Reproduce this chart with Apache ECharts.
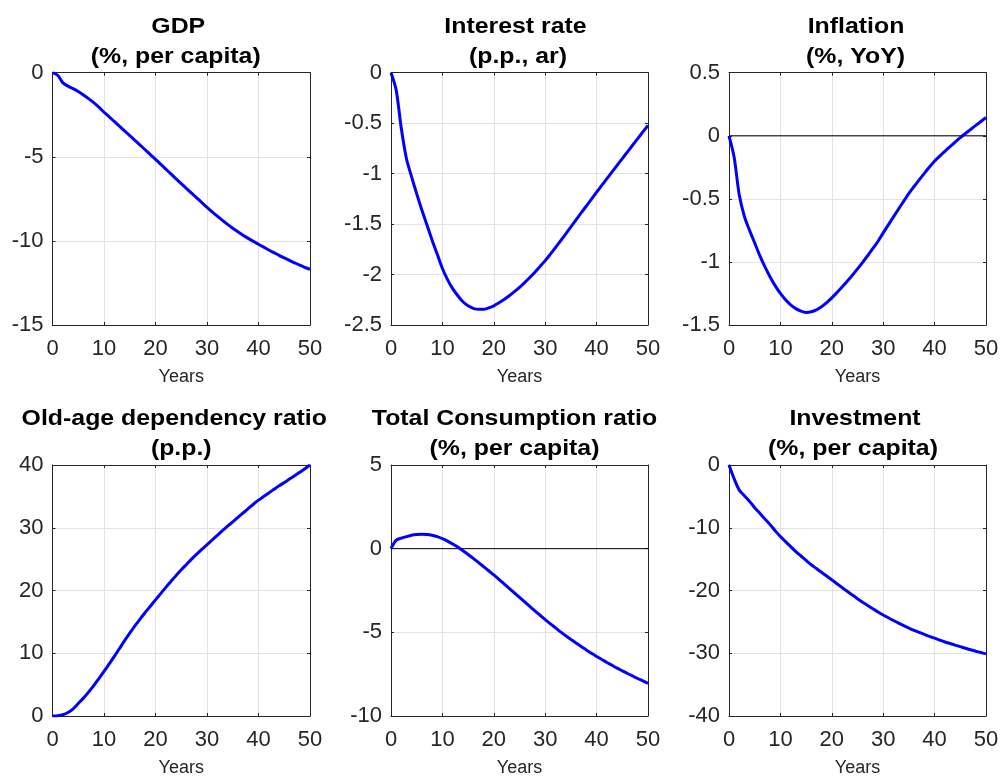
<!DOCTYPE html>
<html>
<head>
<meta charset="utf-8">
<script src="https://cdn.jsdelivr.net/npm/echarts@6/dist/echarts.min.js"></script>
<style>
html,body{margin:0;padding:0;background:#ffffff;}
#chart{width:1000px;height:776px;}
</style>
</head>
<body>
<div id="chart"></div>
<script>
// ---------------- data ----------------
const years = [0,1,2,3,4,5,6,7,8,9,10,11,12,13,14,15,16,17,18,19,20,21,22,23,24,25,26,27,28,29,30,31,32,33,34,35,36,37,38,39,40,41,42,43,44,45,46,47,48,49,50];
const xTicks = [0, 10, 20, 30, 40, 50];

const gdp = [0,-0.15,-0.6,-0.8,-0.95,-1.12,-1.32,-1.54,-1.78,-2.05,-2.35,-2.62,-2.9,-3.18,-3.46,-3.74,-4.02,-4.3,-4.58,-4.87,-5.15,-5.44,-5.73,-6.02,-6.31,-6.6,-6.88,-7.16,-7.44,-7.72,-8.0,-8.27,-8.53,-8.78,-9.02,-9.25,-9.46,-9.66,-9.85,-10.03,-10.2,-10.37,-10.54,-10.7,-10.86,-11.01,-11.16,-11.3,-11.44,-11.57,-11.7];
const interestRate = [0,-0.17,-0.55,-0.85,-1.03,-1.2,-1.36,-1.51,-1.66,-1.8,-1.94,-2.05,-2.14,-2.21,-2.27,-2.31,-2.335,-2.345,-2.345,-2.33,-2.31,-2.28,-2.247,-2.21,-2.17,-2.126,-2.08,-2.03,-1.977,-1.92,-1.862,-1.798,-1.732,-1.665,-1.597,-1.528,-1.459,-1.39,-1.321,-1.252,-1.184,-1.117,-1.05,-0.983,-0.917,-0.851,-0.785,-0.719,-0.653,-0.587,-0.522];
const inflation = [0,-0.17,-0.47,-0.64,-0.75,-0.85,-0.95,-1.04,-1.12,-1.19,-1.25,-1.3,-1.34,-1.37,-1.39,-1.4,-1.395,-1.38,-1.355,-1.322,-1.285,-1.243,-1.199,-1.153,-1.105,-1.055,-1.003,-0.949,-0.893,-0.836,-0.77,-0.706,-0.643,-0.58,-0.518,-0.457,-0.402,-0.349,-0.298,-0.248,-0.2,-0.161,-0.123,-0.086,-0.05,-0.015,0.018,0.05,0.082,0.113,0.145];
const oldAgeRatio = [0,0.05,0.2,0.55,1.15,2.0,2.85,3.8,4.85,5.95,7.1,8.3,9.5,10.75,12.0,13.2,14.35,15.45,16.5,17.5,18.5,19.5,20.5,21.45,22.4,23.3,24.15,25.0,25.8,26.55,27.3,28.05,28.8,29.55,30.25,30.95,31.65,32.35,33.05,33.75,34.4,34.98,35.55,36.12,36.68,37.2,37.75,38.3,38.85,39.4,40.0];
const consumption = [0,0.5,0.63,0.72,0.8,0.84,0.86,0.85,0.8,0.72,0.6,0.45,0.28,0.1,-0.12,-0.35,-0.58,-0.82,-1.07,-1.32,-1.57,-1.83,-2.1,-2.37,-2.64,-2.91,-3.18,-3.45,-3.72,-3.98,-4.24,-4.49,-4.73,-4.97,-5.2,-5.42,-5.64,-5.85,-6.05,-6.25,-6.44,-6.62,-6.8,-6.97,-7.14,-7.3,-7.46,-7.61,-7.76,-7.9,-8.05];
const investment = [0,-2.2,-4.0,-4.9,-5.8,-6.8,-7.7,-8.6,-9.5,-10.5,-11.4,-12.2,-13.0,-13.8,-14.5,-15.2,-15.9,-16.5,-17.1,-17.7,-18.3,-18.92,-19.53,-20.13,-20.72,-21.3,-21.86,-22.4,-22.92,-23.42,-23.9,-24.35,-24.78,-25.2,-25.6,-25.98,-26.34,-26.68,-27.0,-27.31,-27.6,-27.9,-28.2,-28.45,-28.7,-28.95,-29.2,-29.45,-29.67,-29.88,-30.1];

const titles = [
  ['GDP', '(%, per capita)'],
  ['Interest rate', '(p.p., ar)'],
  ['Inflation', '(%, YoY)'],
  ['Old-age dependency ratio', '(p.p.)'],
  ['Total Consumption ratio', '(%, per capita)'],
  ['Investment', '(%, per capita)']
];
const seriesValues = [gdp, interestRate, inflation, oldAgeRatio, consumption, investment];
const yMin = [-15, -2.5, -1.5, 0, -10, -40];
const yMax = [0, 0, 0.5, 40, 5, 0];
const yStep = [5, 0.5, 0.5, 10, 5, 10];
const zeroLine = [false, false, true, false, true, false];
const xLabel = 'Years';

// ---------------- layout / style ----------------
const colLeft = [52.5, 391, 729];
const colWidth = [257.5, 257, 257];
const rowTop = [72.7, 465];
const rowHeight = [252.3, 251];
const titleDx = [[-3, -5.5], [-4, -1.5], [-1.5, -2], [-7, 0], [-5, -5], [-2.5, -4.5]];
const FONT = '"Liberation Sans", Arial, Helvetica, sans-serif';
const AX = '#262626';

const grids = [], xAxes = [], yAxes = [], series = [], graphics = [];
for (let i = 0; i < 6; i++) {
  const r = Math.floor(i / 3), c = i % 3;
  const left = colLeft[c], top = rowTop[r], w = colWidth[c], h = rowHeight[r];
  grids.push({left: left, top: top, width: w, height: h, containLabel: false, outerBoundsMode: 'none', show: false});

  const baseX = {
    type: 'value', gridIndex: i, min: xTicks[0], max: xTicks[xTicks.length - 1], interval: xTicks[1] - xTicks[0],
    axisLine: {show: true, onZero: false, lineStyle: {color: AX, width: 1}},
    axisTick: {show: true, inside: true, length: 3, lineStyle: {color: AX, width: 1}}
  };
  xAxes.push(Object.assign({}, baseX, {
    position: 'bottom',
    axisLabel: {show: true, color: AX, fontSize: 22, fontFamily: FONT, margin: 13, hideOverlap: false},
    splitLine: {show: true, lineStyle: {color: '#e2e2e2', width: 1}},
    name: xLabel, nameLocation: 'middle', nameGap: 43,
    nameTextStyle: {color: AX, fontSize: 18, fontFamily: FONT}
  }));
  xAxes.push(Object.assign({}, baseX, {
    position: 'top', axisLabel: {show: false}, splitLine: {show: false}
  }));

  const baseY = {
    type: 'value', gridIndex: i, min: yMin[i], max: yMax[i], interval: yStep[i],
    axisLine: {show: true, onZero: false, lineStyle: {color: AX, width: 1}},
    axisTick: {show: true, inside: true, length: 3, lineStyle: {color: AX, width: 1}}
  };
  yAxes.push(Object.assign({}, baseY, {
    position: 'left',
    axisLabel: {show: true, color: AX, fontSize: 22, fontFamily: FONT, margin: 9, hideOverlap: false},
    splitLine: {show: true, lineStyle: {color: '#e2e2e2', width: 1}}
  }));
  yAxes.push(Object.assign({}, baseY, {
    position: 'right', axisLabel: {show: false}, splitLine: {show: false}
  }));

  if (zeroLine[i]) {
    series.push({
      type: 'line', xAxisIndex: 2 * i, yAxisIndex: 2 * i, silent: true,
      data: [[xTicks[0], 0], [xTicks[xTicks.length - 1], 0]],
      showSymbol: false, symbol: 'none', lineStyle: {color: '#000000', width: 1}, z: 2
    });
  }
  series.push({
    type: 'line', xAxisIndex: 2 * i, yAxisIndex: 2 * i,
    data: years.map((yr, k) => [yr, seriesValues[i][k]]),
    showSymbol: false, symbol: 'none', smooth: 0.3, clip: true,
    lineStyle: {color: '#0000ff', width: 3}, z: 3
  });

  const cx = left + w / 2;
  const lines = titles[i];
  const ys = [top - 46, top - 16];
  for (let l = 0; l < 2; l++) {
    graphics.push({
      type: 'text', x: cx + titleDx[i][l], y: ys[l], scaleX: 1.13, scaleY: 1, silent: true,
      style: {
        text: lines[l], x: 0, y: 0,
        font: 'bold 22px ' + FONT, fill: '#000000',
        textAlign: 'center', align: 'center', textVerticalAlign: 'middle', verticalAlign: 'middle'
      }
    });
  }
}

const chart = echarts.init(document.getElementById('chart'), null, {renderer: 'canvas'});
chart.setOption({
  animation: false,
  backgroundColor: '#ffffff',
  grid: grids,
  xAxis: xAxes,
  yAxis: yAxes,
  series: series,
  graphic: {elements: graphics}
});
</script>
</body>
</html>
